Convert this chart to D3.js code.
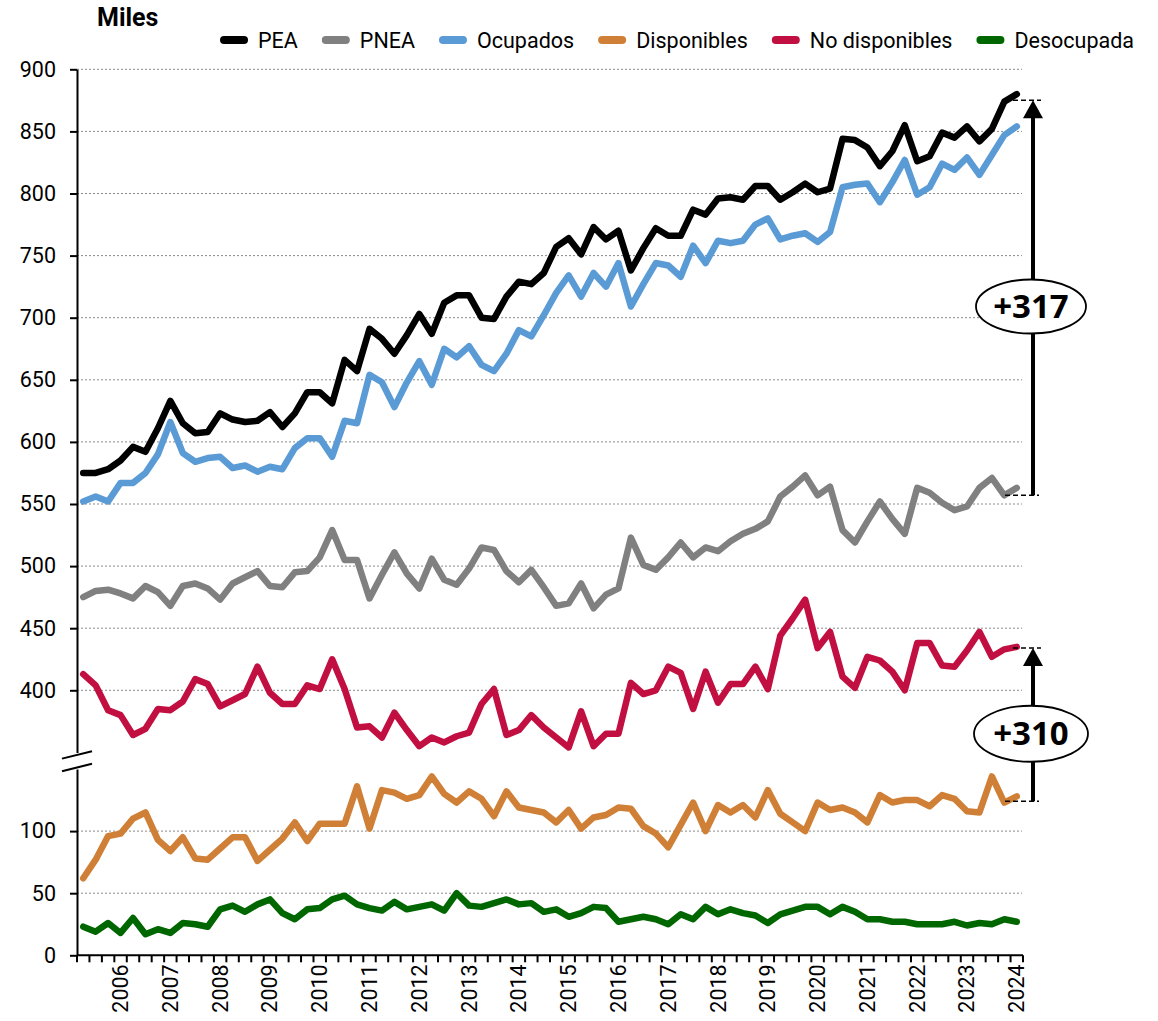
<!DOCTYPE html>
<html><head><meta charset="utf-8">
<script src="https://cdn.jsdelivr.net/npm/d3@7/dist/d3.min.js"></script>
<style>
body{margin:0;background:#fff}
text{font-family:Roboto,"Noto Sans",sans-serif;fill:#000}
</style>
</head><body>
<svg id="c" width="1158" height="1021"></svg>
<script>
// ---------- DATA ----------
const quarterNames = ["I","II","III","IV"];
const periods = [];
for (let y = 2005; y <= 2024; y++) for (const q of quarterNames) periods.push(q + "-" + y);
periods.splice(0, 1);            // starts at II-2005
periods.splice(76);              // ends at I-2024
const yearTickPeriods = periods.filter(p => p.startsWith("I-"));
const yearTickLabels = yearTickPeriods.map(p => p.split("-")[1]);

const pea = [575,575,578,585,596,592,611,633,615,607,608,623,618,616,617,624,612,623,640,640,
             631,666,657,691,683,671,686,703,687,712,718,718,700,699,717,729,727,736,757,764,
             751,773,763,770,738,756,772,766,766,787,783,796,797,795,806,806,795,801,808,801,
             804,844,843,837,822,834,855,826,830,849,845,854,842,852,874,880];
const pnea = [475,480,481,478,474,484,479,468,484,486,482,473,486,491,496,484,483,495,496,507,
              529,505,505,474,493,511,494,482,506,489,485,498,515,513,496,487,497,483,468,470,
              486,466,477,482,523,501,497,507,519,507,515,512,520,526,530,536,556,564,573,557,
              564,529,519,536,552,538,526,563,559,551,545,548,563,571,557,563];
const ocupados = [552,556,552,567,567,575,590,616,591,584,587,588,579,581,576,580,578,595,603,603,
                  588,617,615,654,648,628,648,665,646,675,668,677,662,657,671,690,685,702,720,734,
                  717,736,725,744,709,727,744,742,733,758,744,762,760,762,775,780,763,766,768,761,
                  769,805,807,808,793,809,827,799,805,824,819,829,815,831,847,854];
const disponibles = [62,77,96,98,110,115,93,84,95,78,77,86,95,95,76,85,94,107,92,106,
                     106,106,136,102,133,131,126,129,144,130,123,132,126,112,132,119,117,115,107,117,
                     102,111,113,119,118,104,98,87,105,123,100,121,115,121,111,133,114,107,100,123,
                     117,119,115,107,129,123,125,125,120,129,126,116,115,144,123,128];
const noDisponibles = [413,404,384,380,364,369,385,384,391,409,405,387,392,397,419,398,389,389,404,401,
                       425,401,370,371,362,382,368,355,362,358,363,366,389,401,364,368,380,370,362,354,
                       383,355,365,365,406,397,400,419,414,385,415,390,405,405,419,401,444,458,473,434,
                       447,411,402,427,424,415,400,438,438,420,419,432,447,427,433,435];
const desocupada = [23,19,26,18,30,17,21,18,26,25,23,37,40,35,41,45,34,29,37,38,
                    45,48,41,38,36,43,37,39,41,36,50,40,39,42,45,41,42,35,37,31,
                    34,39,38,27,29,31,29,25,33,29,39,33,37,34,32,26,33,36,39,39,
                    33,39,35,29,29,27,27,25,25,25,27,24,26,25,29,27];

const seriesNames = ["PEA","PNEA","Ocupados","Disponibles","No disponibles","Desocupada"];
const seriesValues = [pea, pnea, ocupados, disponibles, noDisponibles, desocupada];
const seriesColors = ["#000000","#808080","#5b9bd5","#d08036","#c20f42","#006600"];

const upperTicks = [400,450,500,550,600,650,700,750,800,850,900];
const lowerTicks = [0,50,100];
const upperDomain = [350,900];
const lowerDomain = [0,150];

// annotations
const annotations = [
  {from:557, fromSeg:"up", to:875, toSeg:"up", label:"+317", at:709, rx:55, ry:27},
  {from:124, fromSeg:"lo", to:434, toSeg:"up", label:"+310", at:365, rx:57, ry:28}
];

// ---------- LAYOUT ----------
const svg = d3.select("#c");
const left = 77, right = 1023;
const x = d3.scaleBand().domain(periods).range([left, right]);
const cx = p => x(p) + x.bandwidth() / 2;
const yUp = d3.scaleLinear().domain(upperDomain).range([752.4, 69.3]);
const yLo = d3.scaleLinear().domain(lowerDomain).range([955.3, 769]);
const yv = v => v >= 300 ? yUp(v) : yLo(v);
const ySeg = (v, s) => s === "up" ? yUp(v) : yLo(v);

// gridlines
const grid = svg.append("g");
upperTicks.forEach(t => grid.append("line").attr("x1", left).attr("x2", 1022)
  .attr("y1", yUp(t)).attr("y2", yUp(t)));
lowerTicks.filter(t => t > 0).forEach(t => grid.append("line").attr("x1", left).attr("x2", 1022)
  .attr("y1", yLo(t)).attr("y2", yLo(t)));
grid.selectAll("line").attr("stroke", "#8a8a8a").attr("stroke-width", 1).attr("stroke-dasharray", "2,2");

// axes
const axUp = svg.append("g").attr("transform", `translate(${left},0)`)
  .call(d3.axisLeft(yUp).tickValues(upperTicks).tickSize(7).tickSizeOuter(0).tickPadding(14));
const axLo = svg.append("g").attr("transform", `translate(${left},0)`)
  .call(d3.axisLeft(yLo).tickValues(lowerTicks).tickSize(7).tickSizeOuter(0).tickPadding(14));
[axUp, axLo].forEach(a => {
  a.selectAll("path,line").attr("stroke", "#000").attr("stroke-width", 2);
  a.selectAll("text").style("font-family", "Roboto").style("font-size", "21.5px").attr("fill", "#000");
});

// axis break marks
const b1 = yUp(upperDomain[0]) + 2.5, b2 = yLo(lowerDomain[1]) - 1.5;
[b1, b2].forEach(b => svg.append("line").attr("x1", left - 15).attr("y1", b + 3.7)
  .attr("x2", left + 15).attr("y2", b - 3.7).attr("stroke", "#000").attr("stroke-width", 2));

// x axis
const y0 = yLo(0);
const xa = svg.append("g");
xa.append("line").attr("x1", left).attr("x2", right).attr("y1", y0).attr("y2", y0)
  .attr("stroke", "#000").attr("stroke-width", 2);
const bounds = periods.map(p => x(p)).concat([right]);
xa.selectAll("line.tk").data(bounds).join("line").attr("class", "tk")
  .attr("x1", d => d).attr("x2", d => d).attr("y1", y0).attr("y2", y0 + 7)
  .attr("stroke", "#000").attr("stroke-width", 2);
xa.selectAll("text").data(yearTickPeriods).join("text")
  .attr("transform", p => `translate(${cx(p) + 7.5},${y0 + 9}) rotate(-90)`)
  .attr("text-anchor", "end").style("font-size", "21.5px")
  .text((p, i) => yearTickLabels[i]);

// lines
const line = d3.line().x((d, i) => cx(periods[i])).y(d => yv(d));
seriesValues.forEach((vals, k) => {
  svg.append("path").datum(vals).attr("d", line).attr("fill", "none")
    .attr("stroke", seriesColors[k]).attr("stroke-width", 6.5)
    .attr("stroke-linejoin", "round").attr("stroke-linecap", "round");
});

// title
svg.append("text").attr("x", 97).attr("y", 26).style("font-size", "25px")
  .style("font-weight", "700").text("Miles");

// legend
const lg = svg.append("g");
let lx = 220;
seriesNames.forEach((n, k) => {
  lg.append("line").attr("x1", lx + 4).attr("x2", lx + 24).attr("y1", 40).attr("y2", 40)
    .attr("stroke", seriesColors[k]).attr("stroke-width", 8).attr("stroke-linecap", "round");
  const t = lg.append("text").attr("x", lx + 38).attr("y", 47.5).style("font-size", "21.5px").text(n);
  lx += 38 + t.node().getComputedTextLength() + 24;
});

// annotations
const ax = 1033;
annotations.forEach(a => {
  const yb = ySeg(a.from, a.fromSeg), yt = ySeg(a.to, a.toSeg);
  const g = svg.append("g");
  g.append("line").attr("x1", ax - 28).attr("x2", ax + 6).attr("y1", yb).attr("y2", yb)
    .attr("stroke", "#000").attr("stroke-width", 1.5).attr("stroke-dasharray", "5,3");
  g.append("line").attr("x1", ax - 20).attr("x2", ax + 8).attr("y1", yt).attr("y2", yt)
    .attr("stroke", "#000").attr("stroke-width", 1.5).attr("stroke-dasharray", "5,3");
  g.append("line").attr("x1", ax).attr("x2", ax).attr("y1", yb).attr("y2", yt + 16)
    .attr("stroke", "#000").attr("stroke-width", 4);
  g.append("path").attr("d", `M${ax},${yt} L${ax - 10},${yt + 18} L${ax + 10},${yt + 18} Z`).attr("fill", "#000");
  const ey = yUp(a.at);
  g.append("ellipse").attr("cx", ax - 2).attr("cy", ey).attr("rx", a.rx).attr("ry", a.ry)
    .attr("fill", "#fff").attr("stroke", "#000").attr("stroke-width", 1.8);
  g.append("text").attr("x", ax - 2).attr("y", ey + 11.5).attr("text-anchor", "middle")
    .style("font-family", "'Open Sans'").style("font-weight", "700").style("font-size", "33px").text(a.label);
});
</script>
</body></html>
